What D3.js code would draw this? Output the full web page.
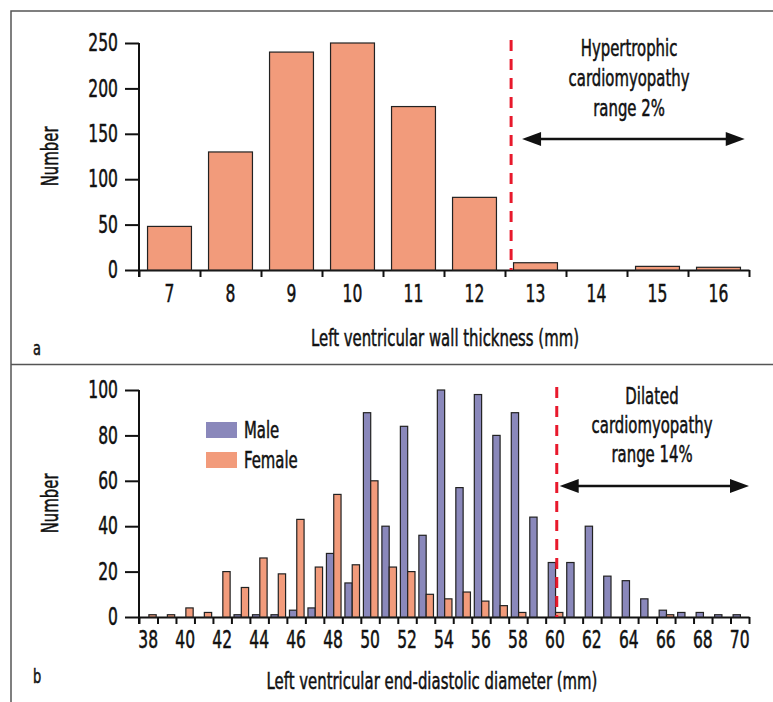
<!DOCTYPE html>
<html lang="en">
<head>
<meta charset="utf-8">
<title>LV wall thickness and diameter</title>
<script src="https://cdn.jsdelivr.net/npm/d3@7"></script>
<style>
  body { margin: 0; background: #fff; }
  text { font-family: "Liberation Sans Narrow", "DejaVu Sans Condensed", sans-serif; fill: #111;
         stroke: #111; stroke-width: 0.5px;
         transform-box: fill-box; transform: scaleX(0.72); transform-origin: center; }
  .axis path, .axis line { stroke: #111; stroke-width: 2; }
  .axis text { font-size: 24px; }
  .yaxis text { transform-origin: right center; }
  .left { transform-origin: left center; }
  .bar { stroke: #222; stroke-width: 1.2; }
</style>
</head>
<body>
<div id="chart"></div>
<script>
// panel a: wall thickness
var thickCats = [7, 8, 9, 10, 11, 12, 13, 14, 15, 16];
var thickCounts = [48, 130, 240, 250, 180, 80, 8, 0, 4, 3];
var thickTicks = [0, 50, 100, 150, 200, 250];
var thickCut = 12.6;
var thickArrow = [12.78, 16.43];
var thickNote = ["Hypertrophic", "cardiomyopathy", "range 2%"];

// panel b: end-diastolic diameter
var diamCats = d3.range(38, 71);
var diamMale = [0, 0, 0, 0, 0, 1, 1, 1, 3, 4, 28, 15, 90, 40, 84, 36, 100, 57, 98, 80, 90, 44, 24, 24, 40, 18, 16, 8, 3, 2, 2, 1, 1];
var diamFemale = [1, 1, 4, 2, 20, 13, 26, 19, 43, 22, 54, 23, 60, 22, 20, 10, 8, 11, 7, 5, 2, 0, 2, 0, 0, 0, 0, 0, 1, 0, 0, 0, 0];
var diamTicks = [0, 20, 40, 60, 80, 100];
var diamLabels = d3.range(38, 71, 2);
var diamCut = 60.1;
var diamArrow = [60.26, 70.5];
var diamNote = ["Dilated", "cardiomyopathy", "range 14%"];
var sexes = ["Male", "Female"];

var width = 773, height = 702;
var colors = { Male: "#8a88bb", Female: "#f29b7b" };

var svg = d3.select("#chart").append("svg")
    .attr("width", width)
    .attr("height", height);

// frame
svg.append("path")
    .attr("d", "M11," + height + "V11H" + width + "M11,364.5H" + width)
    .attr("fill", "none")
    .attr("stroke", "#555")
    .attr("stroke-width", 1.5);

var x0 = 139, x1 = 749;

function arrowHead(g, x, y, dir) {
  // tip at x, pointing left (dir 1) or right (dir -1)
  g.append("path")
      .attr("d", "M" + x + "," + y + "l" + (dir * 19) + ",-7v14z")
      .attr("fill", "#111");
}

function panel(opts) {
  var g = svg.append("g");
  var y = d3.scaleLinear().domain([0, opts.yMax]).range([opts.yBottom, opts.yTop]);
  var xl = d3.scaleLinear()
      .domain([opts.cats[0] - 0.5, opts.cats[opts.cats.length - 1] + 0.5])
      .range([x0, x1]);
  var x = d3.scaleBand().domain(opts.cats).range([x0, x1]);

  // y axis
  var ya = g.append("g").attr("class", "axis yaxis")
      .attr("transform", "translate(" + x0 + ",0)")
      .call(d3.axisLeft(y).tickValues(opts.yTicks).tickSizeInner(14).tickSizeOuter(0).tickPadding(7));
  ya.select(".domain").remove();
  g.append("line")
      .attr("x1", x0).attr("x2", x0)
      .attr("y1", opts.yTop).attr("y2", opts.yBottom + 7)
      .attr("stroke", "#111").attr("stroke-width", 2);

  // x ticks at the band edges, labels at band centres
  g.append("g").attr("class", "axis")
      .attr("transform", "translate(0," + opts.yBottom + ")")
      .call(d3.axisBottom(xl).tickValues(d3.range(opts.cats.length + 1).map(function(i) { return opts.cats[0] - 0.5 + i; }))
          .tickSizeInner(7).tickSizeOuter(0).tickFormat(""));
  var xa = g.append("g").attr("class", "axis")
      .attr("transform", "translate(0," + opts.yBottom + ")")
      .call(d3.axisBottom(x).tickValues(opts.xLabels).tickSize(0).tickPadding(opts.labelPad));
  xa.select(".domain").remove();

  opts.draw(g, x, y);

  // cut-off line, arrow and note
  var cx = xl(opts.cut);
  g.append("line")
      .attr("x1", cx).attr("x2", cx)
      .attr("y1", opts.yTop - 3).attr("y2", opts.yBottom)
      .attr("stroke", "#e8192c").attr("stroke-width", 3)
      .attr("stroke-dasharray", "11,8");
  var ay = opts.arrowY, axL = xl(opts.arrow[0]), axR = xl(opts.arrow[1]);
  g.append("line")
      .attr("x1", axL + 10).attr("x2", axR - 10)
      .attr("y1", ay).attr("y2", ay)
      .attr("stroke", "#111").attr("stroke-width", 2.5);
  arrowHead(g, axL, ay, 1);
  arrowHead(g, axR, ay, -1);
  g.append("text")
      .attr("text-anchor", "middle")
      .attr("font-size", 23)
      .selectAll("tspan")
      .data(opts.note)
      .enter().append("tspan")
      .attr("x", opts.noteX)
      .attr("y", function(d, i) { return opts.noteY + i * opts.noteGap; })
      .text(function(d) { return d; });

  // axis titles and panel letter
  g.append("g")
      .attr("transform", "translate(58," + (opts.yTop + opts.yBottom) / 2 + ") rotate(-90)")
    .append("text")
      .attr("text-anchor", "middle")
      .attr("font-size", 23)
      .text("Number");
  g.append("text")
      .attr("x", opts.titleX).attr("y", opts.titleY)
      .attr("text-anchor", "middle")
      .attr("font-size", 23)
      .text(opts.title);
  g.append("text")
      .attr("class", "left")
      .attr("x", 33).attr("y", opts.letterY)
      .attr("font-size", 20)
      .text(opts.letter);
}

panel({
  cats: thickCats, xLabels: thickCats, yMax: 250, yTicks: thickTicks,
  yTop: 43, yBottom: 270, labelPad: 15,
  cut: thickCut, arrow: thickArrow, arrowY: 139,
  note: thickNote, noteX: 629, noteY: 56, noteGap: 30,
  title: "Left ventricular wall thickness (mm)", titleX: 445, titleY: 346,
  letter: "a", letterY: 355,
  draw: function(g, x, y) {
    var xb = x.copy().paddingInner(0.28).paddingOuter(0.14);
    g.append("g").selectAll("rect")
        .data(thickCats)
        .enter().append("rect")
        .attr("class", "bar")
        .attr("x", function(d) { return xb(d); })
        .attr("width", xb.bandwidth())
        .attr("y", function(d, i) { return y(thickCounts[i]); })
        .attr("height", function(d, i) { return y(0) - y(thickCounts[i]); })
        .attr("fill", colors.Female);
  }
});

panel({
  cats: diamCats, xLabels: diamLabels, yMax: 100, yTicks: diamTicks,
  yTop: 390, yBottom: 617, labelPad: 14,
  cut: diamCut, arrow: diamArrow, arrowY: 486,
  note: diamNote, noteX: 652, noteY: 404, noteGap: 29,
  title: "Left ventricular end-diastolic diameter (mm)", titleX: 432, titleY: 689,
  letter: "b", letterY: 683,
  draw: function(g, x, y) {
    var bw = x.bandwidth();
    var xs = d3.scaleBand().domain(sexes).range([0.14 * bw, 0.93 * bw]);
    var rows = diamCats.map(function(c, i) {
      return { cat: c, Male: diamMale[i], Female: diamFemale[i] };
    });
    g.append("g").selectAll("g")
        .data(rows)
        .enter().append("g")
        .attr("transform", function(d) { return "translate(" + x(d.cat) + ",0)"; })
      .selectAll("rect")
        .data(function(d) { return sexes.map(function(s) { return { sex: s, v: d[s] }; }).filter(function(e) { return e.v > 0; }); })
        .enter().append("rect")
        .attr("class", "bar")
        .attr("x", function(d) { return xs(d.sex); })
        .attr("width", xs.bandwidth())
        .attr("y", function(d) { return y(d.v); })
        .attr("height", function(d) { return y(0) - y(d.v); })
        .attr("fill", function(d) { return colors[d.sex]; });

    // legend
    var lg = g.append("g").attr("transform", "translate(206,422)");
    var item = lg.selectAll("g").data(sexes).enter().append("g")
        .attr("transform", function(d, i) { return "translate(0," + i * 30 + ")"; });
    item.append("rect").attr("width", 31).attr("height", 16)
        .attr("fill", function(d) { return colors[d]; });
    item.append("text").attr("class", "left")
        .attr("x", 38).attr("y", 16).attr("font-size", 23)
        .text(function(d) { return d; });
  }
});
</script>
</body>
</html>
